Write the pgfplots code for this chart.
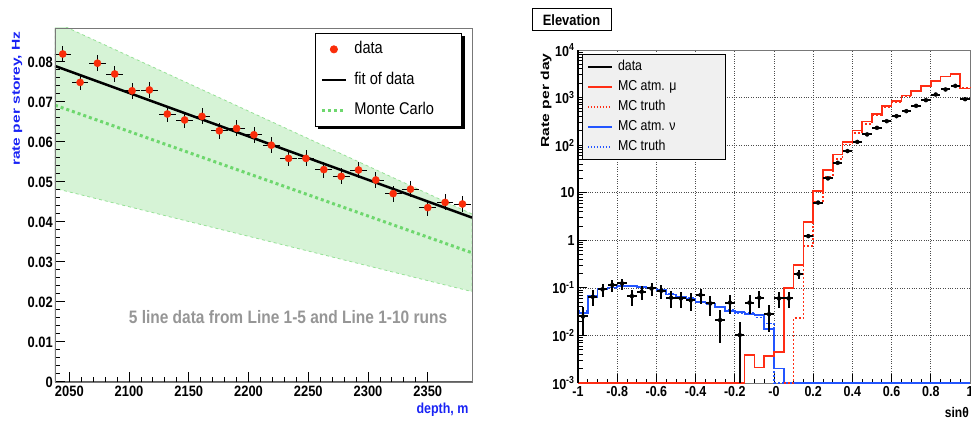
\documentclass[border=0pt]{standalone}
\usepackage{pgfplots}
\usepackage{pgfplotstable}
\pgfplotsset{compat=1.18}
\usepackage{fontspec}
\setmainfont{Liberation Sans}[FakeStretch=0.86]
\newfontfamily\vfont{Liberation Sans}[FakeStretch=1.35]

\definecolor{datared}{RGB}{250,45,10}
\definecolor{mcgreen}{RGB}{110,215,110}
\definecolor{bandfill}{RGB}{214,243,214}
\definecolor{bandedge}{RGB}{150,225,150}
\definecolor{labblue}{RGB}{25,35,245}
\definecolor{histred}{RGB}{255,45,20}
\definecolor{histblue}{RGB}{35,85,255}
\definecolor{framegray}{RGB}{120,120,120}
\definecolor{notegray}{RGB}{150,150,150}

% elevation data: bin centre, rate per day, error
\pgfplotstableread{
x y ey
-0.975 0.025 0.015
-0.925 0.065 0.024
-0.875 0.093 0.029
-0.825 0.115 0.032
-0.775 0.124 0.033
-0.725 0.067 0.025
-0.675 0.083 0.027
-0.625 0.097 0.030
-0.575 0.087 0.028
-0.525 0.062 0.024
-0.475 0.060 0.023
-0.425 0.055 0.022
-0.375 0.071 0.025
-0.325 0.047 0.021
-0.275 0.021 0.014
-0.225 0.049 0.021
-0.175 0.0102 0.0092
-0.125 0.049 0.021
-0.075 0.062 0.024
-0.025 0.028 0.016
0.025 0.060 0.023
0.075 0.060 0.023
0.125 0.195 0.042
0.175 1.22 0.105
0.225 6.2 0.24
0.275 20 0.42
0.325 42.5 0.62
0.375 75 0.8
0.425 117 1.0
0.475 168 1.2
0.525 231 1.4
0.575 319 1.7
0.625 407 1.9
0.675 518 2.2
0.725 670 2.5
0.775 882 2.8
0.825 1160 3.2
0.875 1480 3.7
0.925 1762 4.0
0.975 925 2.9
}\elevdata

% histograms: left bin edge, content (bins of 0.05)
\pgfplotstableread{
x y
-1 0.001
-0.15 0.0039
-0.1 0.0021
-0.05 0.0037
0 0.0045
0.05 0.10
0.1 0.30
0.15 2.45
0.2 11
0.25 30
0.3 63
0.35 117
0.4 205
0.45 315
0.5 455
0.55 665
0.6 850
0.65 1100
0.7 1385
0.75 1740
0.8 2230
0.85 2770
0.9 3100
0.95 1550
1 1550
}\mcmu

\pgfplotstableread{
x y
0.05 0.001
0.1 0.0235
0.15 0.75
0.2 6.6
0.25 22
0.3 51
0.35 103
0.4 181
0.45 277
0.5 430
0.55 620
0.6 810
0.65 1070
0.7 1330
0.75 1740
0.8 2200
0.85 2800
0.9 3100
0.95 1630
1 1630
}\truthmu

\pgfplotstableread{
x y
-1 0.030
-0.95 0.067
-0.9 0.093
-0.85 0.102
-0.8 0.110
-0.75 0.110
-0.7 0.105
-0.65 0.097
-0.6 0.090
-0.55 0.073
-0.5 0.065
-0.45 0.060
-0.4 0.051
-0.35 0.047
-0.3 0.040
-0.25 0.033
-0.2 0.031
-0.15 0.028
-0.1 0.027
-0.05 0.0136
0 0.002
0.05 0.001
1 0.001
}\mcnu

\pgfplotstableread{
x y
-1 0.033
-0.95 0.065
-0.9 0.095
-0.85 0.100
-0.8 0.108
-0.75 0.112
-0.7 0.103
-0.65 0.098
-0.6 0.088
-0.55 0.075
-0.5 0.063
-0.45 0.061
-0.4 0.052
-0.35 0.046
-0.3 0.041
-0.25 0.034
-0.2 0.029
-0.15 0.030
-0.1 0.024
-0.05 0.018
0 0.001
0.05 0.001
}\truthnu

\pgfplotsset{
  legend image code/.code={\draw[mark repeat=2,mark phase=2,#1] plot coordinates {(0pt,0pt) (12pt,0pt) (24pt,0pt)};},
}

\begin{document}
\begin{tikzpicture}
\useasboundingbox (0,0) rectangle (971pt,420pt);

% shadow behind the left legend
\fill[black] (318pt,291pt) rectangle (465pt,384pt);

% ---------------- left: rate vs depth
\begin{axis}[
  at={(55pt,38pt)}, anchor=south west,
  scale only axis, width=417pt, height=354pt,
  xmin=2038, xmax=2387, ymin=0, ymax=0.0885,
  scaled y ticks=false, scaled x ticks=false,
  xtick={2050,2100,2150,2200,2250,2300,2350},
  xticklabels={2050,2100,2150,2200,2250,2300,2350},
  ytick={0,0.01,0.02,0.03,0.04,0.05,0.06,0.07,0.08},
  yticklabels={0,0.01,0.02,0.03,0.04,0.05,0.06,0.07,0.08},
  minor x tick num=4, minor y tick num=4,
  tick pos=left, tick align=inside,
  major tick length=10pt, minor tick length=5pt,
  tick style={black, line width=1pt},
  axis line style={framegray, line width=0.8pt},
  axis on top,
  ticklabel style={font=\bfseries\fontsize{15}{16}\selectfont},
  yticklabel style={inner xsep=2pt},
  legend style={at={(0.6235,0.986)}, anchor=north west,
    draw=black, line width=0.8pt, fill=white,
    inner xsep=5pt, inner ysep=6pt, row sep=10.5pt, column sep=5pt,
    font=\fontsize{17}{18}\selectfont,
    nodes={inner sep=2pt, text height=12.5pt, text depth=3.5pt}},
  legend cell align=left,
]
\addlegendimage{only marks, mark=*, mark size=3.6pt, mark options={fill=datared, draw=datared}}
\addlegendentry{\makebox[100pt][l]{data}}
\addlegendimage{black, line width=2.5pt}
\addlegendentry{\makebox[100pt][l]{fit of data}}
\addlegendimage{mcgreen, line width=3pt, dash pattern=on 3pt off 3pt}
\addlegendentry{\makebox[100pt][l]{Monte Carlo}}

\addplot[fill=bandfill, draw=bandedge, dashed, line width=0.8pt, forget plot]
  coordinates {(2038,0.0900) (2387,0.0420) (2387,0.0226) (2038,0.0484)} -- cycle;
\addplot[mcgreen, line width=3pt, dash pattern=on 3pt off 3pt, forget plot]
  coordinates {(2038,0.0692) (2387,0.0323)};
\addplot[black, line width=2.5pt, forget plot]
  coordinates {(2038,0.0790) (2387,0.0411)};
\addplot[only marks, mark=*, mark size=3.6pt, mark options={fill=datared, draw=datared}, forget plot,
  error bars/.cd, x dir=both, x fixed=7, y dir=both, y fixed=0.002,
  error bar style={black, line width=0.7pt}, error mark=none]
  coordinates {
  (2044.5,0.0820) (2059,0.0749) (2073.5,0.0797) (2088,0.0770) (2102.5,0.0728) (2117,0.0730)
  (2132,0.0670) (2146.5,0.0655) (2161,0.0664) (2175.5,0.0628) (2190,0.0634) (2204.5,0.0618)
  (2219,0.0592) (2233.5,0.0559) (2248,0.0559) (2263,0.0531) (2277.5,0.0514) (2292,0.0530)
  (2306.5,0.0505) (2321,0.0471) (2335.5,0.0482) (2350,0.0436) (2364.5,0.0449) (2379,0.0445)
  };
\draw[framegray!80!black, line width=1.6pt] (rel axis cs:0,1) -- (rel axis cs:0,0) -- (rel axis cs:1,0);
\node[font=\bfseries\fontsize{18}{20}\selectfont, text=notegray] at (axis cs:2233,0.0163)
  {5 line data from Line 1-5 and Line 1-10 runs};
\end{axis}

\node[rotate=90, anchor=east, text=labblue, font=\vfont\bfseries\fontsize{11.5}{12}\selectfont]
  at (17pt,392pt) {rate per storey, Hz};
\node[anchor=east, text=labblue, font=\bfseries\fontsize{14.5}{15}\selectfont]
  at (472pt,10pt) {depth, m};

% ---------------- right: elevation
\begin{axis}[
  at={(578pt,37pt)}, anchor=south west,
  scale only axis, width=392pt, height=333pt,
  xmin=-1, xmax=1, ymode=log, ymin=1e-3, ymax=1e4,
  clip=false,
  xtick={-1,-0.8,-0.6,-0.4,-0.2,0,0.2,0.4,0.6,0.8,1},
  xticklabels={-1,-0.8,-0.6,-0.4,-0.2,-0,0.2,0.4,0.6,0.8,1},
  minor x tick num=3,
  ytick={1e-3,1e-2,1e-1,1,10,100,1000,10000},
  yticklabels={10\textsuperscript{-3},10\textsuperscript{-2},10\textsuperscript{-1},1,10,10\textsuperscript{2},10\textsuperscript{3},10\textsuperscript{4}},
  minor ytick={2e-3,3e-3,4e-3,5e-3,6e-3,7e-3,8e-3,9e-3,
    0.02,0.03,0.04,0.05,0.06,0.07,0.08,0.09,
    0.2,0.3,0.4,0.5,0.6,0.7,0.8,0.9,
    2,3,4,5,6,7,8,9,
    20,30,40,50,60,70,80,90,
    200,300,400,500,600,700,800,900,
    2000,3000,4000,5000,6000,7000,8000,9000},
  tick pos=left, tick align=inside,
  major tick length=9pt, minor tick length=4.5pt,
  tick style={black, line width=0.9pt},
  grid=major, major grid style={black!70, dotted, line width=0.7pt},
  axis line style={framegray, line width=0.8pt},
  ticklabel style={font=\bfseries\fontsize{14.5}{15}\selectfont},
  legend style={at={(0.0102,0.988)}, anchor=north west,
    draw=black, line width=1pt, fill=black!6,
    inner xsep=4pt, inner ysep=4.5pt, row sep=3.5pt, column sep=3.5pt,
    font=\fontsize{14.4}{15}\selectfont,
    nodes={inner sep=1.5pt, text height=10.5pt, text depth=3pt}},
  legend cell align=left,
]
\addlegendimage{black, line width=2.5pt}
\addlegendentry{\makebox[102pt][l]{data}}
\addlegendimage{histred, line width=1.5pt}
\addlegendentry{\makebox[102pt][l]{MC atm. μ}}
\addlegendimage{histred, line width=1.5pt, dash pattern=on 1.5pt off 1.5pt}
\addlegendentry{\makebox[102pt][l]{MC truth}}
\addlegendimage{histblue, line width=1.5pt}
\addlegendentry{\makebox[102pt][l]{MC atm. ν}}
\addlegendimage{histblue, line width=1.5pt, dash pattern=on 1.5pt off 1.5pt}
\addlegendentry{\makebox[102pt][l]{MC truth}}

\addplot[const plot mark left, histblue, line width=1.5pt, dash pattern=on 2pt off 2pt, forget plot] table[x=x,y=y] {\truthnu};
\addplot[const plot mark left, histblue, line width=1.6pt, forget plot] table[x=x,y=y] {\mcnu};
\addplot[const plot mark left, histred, line width=1.5pt, dash pattern=on 2pt off 2pt, forget plot] table[x=x,y=y] {\truthmu};
\addplot[const plot mark left, histred, line width=1.6pt, forget plot] table[x=x,y=y] {\mcmu};
\addplot[only marks, mark=none, forget plot,
  error bars/.cd, x dir=both, x fixed=0.024, y dir=both, y explicit,
  error bar style={black, line width=2pt}, error mark=none]
  table[x=x, y=y, y error=ey] {\elevdata};
\draw[black, line width=1.5pt] (rel axis cs:0,0) -- (rel axis cs:0,1);
\end{axis}

\node[rotate=90, anchor=east, font=\vfont\bfseries\fontsize{11.6}{12}\selectfont]
  at (546pt,370pt) {Rate per day};
\node[anchor=east, inner xsep=1pt, font=\bfseries\fontsize{14}{15}\selectfont] at (970pt,8pt) {sinθ};
\node[draw=black, line width=1pt, fill=white, minimum width=79pt, minimum height=22pt, inner sep=0pt,
  font=\bfseries\fontsize{15}{16}\selectfont] at (571.5pt,400pt) {Elevation};
\end{tikzpicture}
\end{document}
